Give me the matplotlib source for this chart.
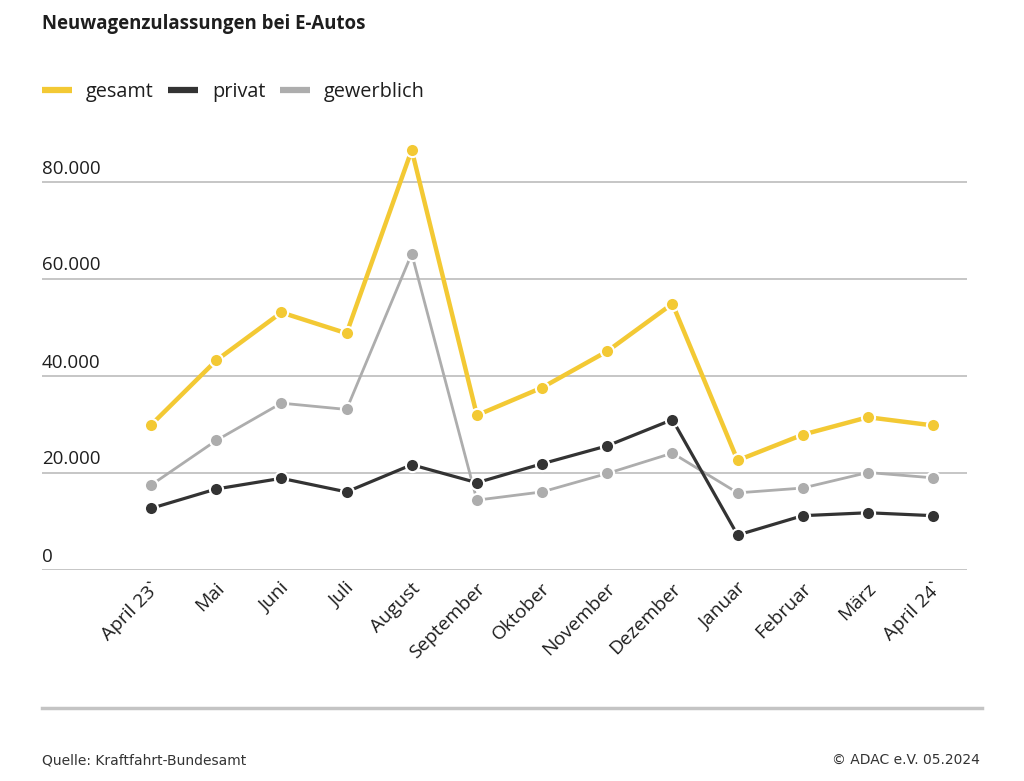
import matplotlib
matplotlib.use("Agg")
import matplotlib.pyplot as plt
import matplotlib.transforms as mtransforms
from matplotlib.lines import Line2D

months = ["April 23`", "Mai", "Juni", "Juli", "August", "September", "Oktober",
          "November", "Dezember", "Januar", "Februar", "März", "April 24`"]
gesamt = [29800, 43100, 53000, 48700, 86500, 31800, 37500, 45000, 54800, 22500, 27800, 31400, 29700]
privat = [12600, 16600, 18800, 16000, 21600, 17900, 21800, 25500, 30900, 7100, 11100, 11700, 11100]
gewerblich = [17400, 26600, 34300, 33000, 65100, 14300, 16000, 19800, 24000, 15800, 16800, 20000, 18900]
y_ticks = [0, 20000, 40000, 60000, 80000]
y_tick_labels = ["0", "20.000", "40.000", "60.000", "80.000"]

YELLOW = "#F3C934"
DARK = "#333333"
GRAY = "#ADADAD"
TEXT = "#1e1e1e"

plt.rcParams["font.family"] = ["Open Sans", "DejaVu Sans"]

fig = plt.figure(figsize=(10.24, 7.81), dpi=100)
W, H = 1024, 781
ax = fig.add_axes([42 / W, 1 - 569.5 / H, (967 - 42) / W, (569.5 - 133) / H])

x = list(range(len(months)))
ax.plot(x, gewerblich, color=GRAY, lw=2.0, marker="o", ms=9.5, mfc=GRAY, mec="white", mew=1.5, zorder=3)
ax.plot(x, privat, color=DARK, lw=2.3, marker="o", ms=9.5, mfc=DARK, mec="white", mew=1.5, zorder=4)
ax.plot(x, gesamt, color=YELLOW, lw=3.2, marker="o", ms=9.5, mfc=YELLOW, mec="white", mew=1.5, zorder=5)

ax.set_xlim(-1.673, 12.52)
ax.set_ylim(0, 90000)
ax.set_yticks(y_ticks)
ax.set_yticklabels([])
ax.tick_params(axis="y", length=0)
ax.grid(axis="y", color="#c6c6c6", lw=1.4)
ax.set_axisbelow(True)
for s in ax.spines.values():
    s.set_visible(False)

trans = mtransforms.blended_transform_factory(ax.transAxes, ax.transData)
offset = mtransforms.ScaledTranslation(0, 4 / 100, fig.dpi_scale_trans)
for v, lab in zip(y_ticks, y_tick_labels):
    ax.text(0, v, lab, transform=trans + offset, ha="left", va="bottom",
            fontsize=13.5, color=TEXT)

ax.set_xticks(x)
ax.set_xticklabels(months, rotation=45, ha="right", va="top", rotation_mode="anchor",
                   fontsize=13.8, color=TEXT)
ax.tick_params(axis="x", length=0, pad=7)
for lbl in ax.get_xticklabels():
    lbl.set_transform(lbl.get_transform() + mtransforms.ScaledTranslation(-1 / 100, 0, fig.dpi_scale_trans))

fig.text(42 / W, 1 - 24 / H, "Neuwagenzulassungen bei E-Autos", fontsize=13.4,
         fontweight="bold", color=TEXT, ha="left", va="center")

handles = [Line2D([], [], color=YELLOW, lw=4.5, solid_capstyle="butt"),
           Line2D([], [], color=DARK, lw=4.5, solid_capstyle="butt"),
           Line2D([], [], color=GRAY, lw=4.5, solid_capstyle="butt")]
leg = fig.legend(handles, ["gesamt", "privat", "gewerblich"], ncol=3, loc="center left",
                 bbox_to_anchor=(42 / W, 1 - 92 / H), frameon=False, fontsize=14.3,
                 handlelength=1.5, handletextpad=0.7, columnspacing=0.75, borderaxespad=0,
                 borderpad=0)
for t in leg.get_texts():
    t.set_color(TEXT)

fig.add_artist(Line2D([42 / W, 982 / W], [1 - 708 / H, 1 - 708 / H], color="#c4c4c4", lw=2.5))
foot_font = ["Liberation Sans Narrow", "DejaVu Sans"]
fig.text(42 / W, 1 - 760 / H, "Quelle: Kraftfahrt-Bundesamt", fontsize=10, color="#333333",
         ha="left", va="center", family=foot_font)
fig.text(980 / W, 1 - 760 / H, "© ADAC e.V. 05.2024", fontsize=10, color="#333333",
         ha="right", va="center", family=foot_font)

fig.savefig("out.png", dpi=100)
